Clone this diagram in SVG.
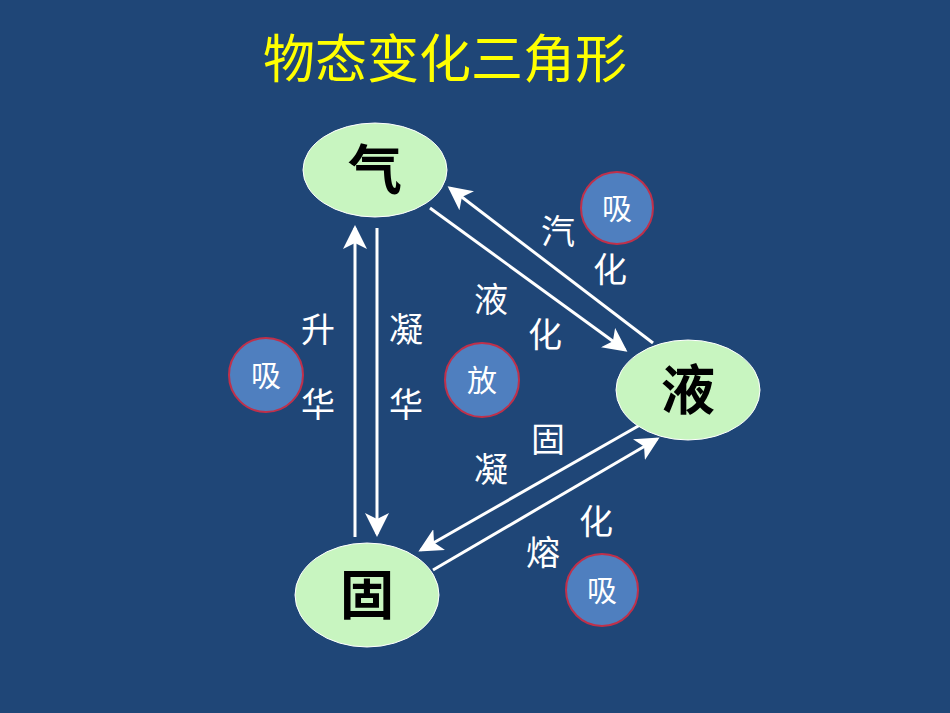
<svg xmlns="http://www.w3.org/2000/svg" width="950" height="713" viewBox="0 0 950 713">
<style>
.n{fill:#c8f5c0;stroke:#ffffff;stroke-width:1}
.nt{font-family:"Noto Sans CJK SC",sans-serif;font-weight:bold;font-size:54px;fill:#000;text-anchor:middle}
.c{fill:#4f7fbf;stroke:#c0304a;stroke-width:2}
.ct{font-family:"Noto Sans CJK SC",sans-serif;font-size:30px;fill:#fff;text-anchor:middle}
.l{font-family:"Noto Sans CJK SC",sans-serif;font-size:34px;fill:#fff;text-anchor:middle}
.a{stroke:#fff;stroke-width:3;fill:none;marker-end:url(#ah)}
</style>
<defs><marker id="ah" markerWidth="8" markerHeight="8" refX="7" refY="4" orient="auto" markerUnits="strokeWidth"><path d="M0,0 L8,4 L0,8 L2,4 Z" fill="#fff"/></marker></defs>
<rect width="950" height="713" fill="#1f4677"/>
<text x="445" y="78" font-family="Noto Sans CJK SC,sans-serif" font-size="52" fill="#ffff00" text-anchor="middle">物态变化三角形</text>
<g id="connectors">
<line class="a" x1="355" y1="537" x2="355" y2="228"/>
<line class="a" x1="377" y1="228" x2="377" y2="534"/>
<line class="a" x1="430" y1="208" x2="625" y2="350"/>
<line class="a" x1="653" y1="343" x2="450" y2="188"/>
<line class="a" x1="640" y1="425" x2="421" y2="550"/>
<line class="a" x1="433" y1="570" x2="657" y2="439"/>
</g>
<g id="gas"><ellipse class="n" cx="375" cy="170" rx="72" ry="47"/><text class="nt" x="375" y="190">气</text></g>
<g id="liquid"><ellipse class="n" cx="688" cy="390" rx="72" ry="50"/><text class="nt" x="688" y="410">液</text></g>
<g id="solid"><ellipse class="n" cx="367" cy="595" rx="72" ry="52"/><text class="nt" x="367" y="615">固</text></g>
<g id="c1"><circle class="c" cx="617" cy="208" r="36"/><text class="ct" x="617" y="219">吸</text></g>
<g id="c2"><circle class="c" cx="266" cy="375" r="37"/><text class="ct" x="266" y="386">吸</text></g>
<g id="c3"><circle class="c" cx="482" cy="380" r="37"/><text class="ct" x="482" y="391">放</text></g>
<g id="c4"><circle class="c" cx="602" cy="590" r="36"/><text class="ct" x="602" y="601">吸</text></g>
<g id="labels">
<text class="l" x="318" y="342">升</text><text class="l" x="318" y="417">华</text>
<text class="l" x="406" y="342">凝</text><text class="l" x="406" y="417">华</text>
<text class="l" x="491" y="312">液</text><text class="l" x="545" y="347">化</text>
<text class="l" x="558" y="244">汽</text><text class="l" x="610" y="282">化</text>
<text class="l" x="548" y="452">固</text><text class="l" x="491" y="482">凝</text>
<text class="l" x="596" y="534">化</text><text class="l" x="543" y="565">熔</text>
</g>
</svg>
